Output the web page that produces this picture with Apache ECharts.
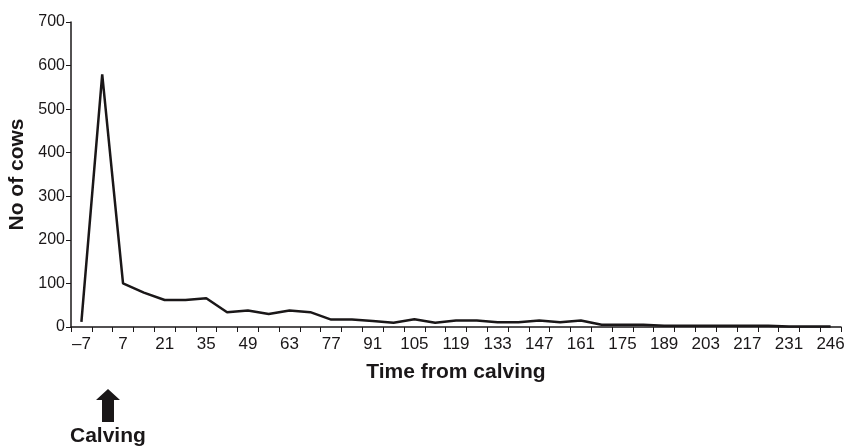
<!DOCTYPE html>
<html lang="en">
<head>
    <meta charset="UTF-8">
    <title>No of cows by time from calving</title>
    <script src="https://cdn.jsdelivr.net/npm/echarts@6/dist/echarts.min.js"></script>
</head>
<style>
    *{
        margin: 0;
    }
    html,body{
        height: 100%;
        background: #fff;
    }
    #chart{
        width: 846px;
        height: 448px;
    }
</style>
<body>
<div id="chart"></div>
<script>
    // days relative to calving (weekly)
    const days = ['–7','0','7','14','21','28','35','42','49','56','63','70','77','84','91','98','105','112',
        '119','126','133','140','147','154','161','168','175','182','189','196','203','210','217','224','231','238','246'];
    const cows = [12,580,100,79,62,62,66,34,38,30,38,34,17,17,14,10,18,10,
        15,15,11,11,15,11,15,5,5,5,3,3,3,3,3,3,1,1,1];
    const yTicks = {min: 0, max: 700, step: 100};

    const ink = '#1a1718';
    const font = 'Liberation Sans, Arial, sans-serif';

    let chart = echarts.init(document.getElementById('chart'));
    chart.setOption({
        animation: false,
        grid: {left: 71, right: 5, top: 22, bottom: 121, outerBoundsMode: 'none'},
        xAxis: {
            type: 'category',
            data: days,
            boundaryGap: true,
            name: 'Time from calving',
            nameLocation: 'middle',
            nameGap: 35,
            nameTextStyle: {fontFamily: font, fontSize: 21, fontWeight: 'bold', color: ink},
            axisLine: {lineStyle: {color: ink, width: 1.5}},
            axisTick: {show: true, interval: 0, length: 5, lineStyle: {color: ink}},
            axisLabel: {interval: 1, fontFamily: font, fontSize: 17, color: ink, margin: 9}
        },
        yAxis: {
            type: 'value',
            min: yTicks.min,
            max: yTicks.max,
            interval: yTicks.step,
            name: 'No of cows',
            nameLocation: 'middle',
            nameGap: 37,
            nameTextStyle: {fontFamily: font, fontSize: 21, fontWeight: 'bold', color: ink},
            axisLine: {show: true, lineStyle: {color: ink, width: 1.5}},
            axisTick: {show: true, length: 5, lineStyle: {color: ink}},
            axisLabel: {fontFamily: font, fontSize: 16, color: ink, margin: 6},
            splitLine: {show: false}
        },
        series: [{
            type: 'line',
            data: cows,
            showSymbol: false,
            lineStyle: {color: ink, width: 2.5}
        }],
        graphic: [
            {
                type: 'polygon',
                shape: {points: [[108, 389], [120, 400], [114, 400], [114, 422], [102, 422], [102, 400], [96, 400]]},
                style: {fill: ink}
            },
            {
                type: 'text',
                left: 70,
                top: 426,
                style: {text: 'Calving', fontFamily: font, fontSize: 21, fontWeight: 'bold', fill: ink}
            }
        ]
    });
</script>
</body>
</html>
